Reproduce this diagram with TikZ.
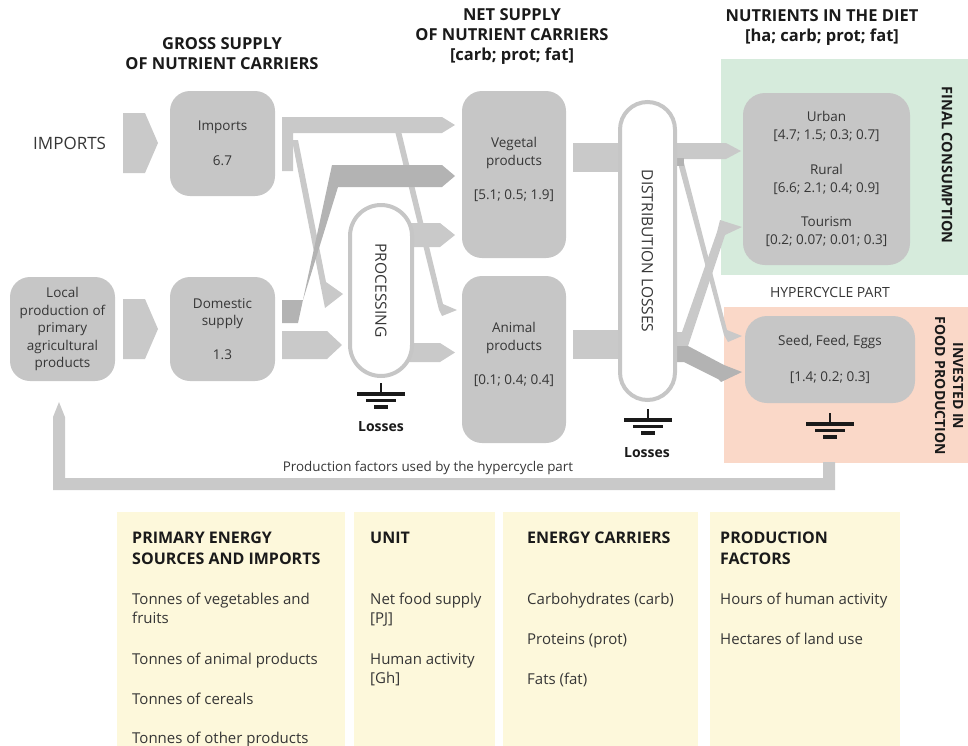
\documentclass[tikz,border=0pt]{standalone}
\usepackage{fontspec}
\setmainfont{Open Sans}
\definecolor{bandc}{HTML}{C9C9C9}
\definecolor{bandd}{HTML}{B3B3B3}
\definecolor{boxc}{HTML}{C6C6C6}
\definecolor{capc}{HTML}{C6C6C6}
\definecolor{greenbg}{HTML}{D6EBDC}
\definecolor{salmonbg}{HTML}{FAD8C8}
\definecolor{legbg}{HTML}{FDF8DB}
\definecolor{txtc}{HTML}{363636}
\definecolor{headc}{HTML}{1A1A1A}
\newcommand{\fsz}[2]{\fontsize{#1}{#2}\selectfont}
\begin{document}
\begin{tikzpicture}[x=1pt,y=-1pt,
  gbox/.style={fill=boxc, rounded corners=20pt, inner sep=0pt, text=txtc, align=center, font=\fsz{13.5}{17.5}},
  capsule/.style={draw=capc, line width=4pt, fill=white, inner sep=0pt, text=txtc, font=\fsz{15.5}{18}},
  head/.style={font=\fsz{16.5}{20}\bfseries, text=headc, align=center, inner sep=0pt},
  lbl/.style={font=\fsz{13.5}{17}, text=txtc, inner sep=0pt, align=center},
  loss/.style={font=\fsz{14}{17}\bfseries, text=headc, inner sep=0pt},
  band/.style={fill=bandc},
  bandk/.style={fill=bandd},
  legh/.style={font=\fsz{16}{20}\bfseries, text=headc, inner sep=0pt, anchor=base west},
  legt/.style={font=\fsz{15}{19}, text=txtc, inner sep=0pt, anchor=base west},
  gndsym/.pic={
    \draw[line width=2.5pt, headc] (0,0) -- (0,11);
    \draw[line width=3.5pt, headc] (-24,11) -- (24,11);
    \draw[line width=3.5pt, headc] (-15,17.5) -- (15,17.5);
    \draw[line width=3.5pt, headc] (-7,24) -- (7,24);
  }]
\path[use as bounding box] (0,0) rectangle (968,745);

% backgrounds
\fill[greenbg] (721,59) rectangle (968,275);
\fill[salmonbg] (724,307) rectangle (968,463);
\fill[legbg] (117,512) rectangle (345,750);
\fill[legbg] (354,512) rectangle (495,750);
\fill[legbg] (503,512) rectangle (698,750);
\fill[legbg] (710,512) rectangle (900,750);

% feedback line
\fill[band] (53,490) -- (53,417) -- (59,402) -- (65,417) -- (65,478) -- (823,478) -- (823,462) -- (835,462) -- (835,490) -- cycle;

% input chevrons
\fill[band] (123,113) -- (145,113) -- (158,143) -- (145,173) -- (123,173) -- cycle;
\fill[band] (123,299) -- (145,299) -- (158,329) -- (145,359) -- (123,359) -- cycle;

% imports flows
\fill[band] (282,117) -- (442,117) -- (455,125) -- (442,133) -- (293,133) -- (293,171) -- (282,171) -- cycle;
\fill[band] (292,140) -- (298,140) -- (326,282) -- (343,294) -- (325,308) -- cycle;
\fill[band] (395,131) -- (401,131) -- (443,304) -- (457,310) -- (442,316) -- (439,310) -- cycle;
% domestic flows
\fill[band] (282,331) -- (327,331) -- (342,345) -- (327,359) -- (282,359) -- cycle;
\fill[bandk] (282,300) -- (303,300) -- (338,187) -- (442,187) -- (455,176) -- (442,165) -- (332,165) -- (298,323) -- (282,323) -- cycle;
% processing outputs
\fill[band] (405,223) -- (440,223) -- (455,235) -- (440,247) -- (405,247) -- cycle;
\fill[band] (405,343) -- (440,343) -- (455,352.5) -- (440,362) -- (405,362) -- cycle;
% into distribution
\fill[band] (573,143) rectangle (625,172);
\fill[band] (573,330) rectangle (625,359);
% distribution outputs
\fill[band] (670,143) -- (726,143) -- (741,151) -- (726,159) -- (670,159) -- cycle;
\fill[band] (678,163) -- (684,163) -- (727,330) -- (742,336) -- (728,342) -- (724,335) -- cycle;
\fill[bandk] (676,158) rectangle (684,166);
\fill[band] (670,332) -- (682,332) -- (717,232) -- (720,220) -- (742,227) -- (725,235) -- (688,346) -- (670,346) -- cycle;
\fill[bandk] (670,346) -- (688,346) -- (724,365) -- (742,372) -- (721,382) -- (718,379) -- (684,362) -- (670,362) -- cycle;

% boxes
\node[gbox, minimum width=105, minimum height=105] (imp) at (222.5,143.5) {Imports\\[17pt]6.7};
\node[gbox, minimum width=105, minimum height=104] (dom) at (222.5,329) {Domestic\\supply\\[16pt]1.3};
\node[gbox, minimum width=105, minimum height=104] (loc) at (62.5,329) {Local\\production of\\primary\\agricultural\\products};
\node[gbox, minimum width=104, minimum height=167] (veg) at (514,174.5) {};
\node[lbl, font=\fsz{13.5}{17.5}] (vegt) at (514,169.5) {Vegetal\\products\\[17pt]{}[5.1; 0.5; 1.9]};
\node[gbox, minimum width=104, minimum height=167] (ani) at (514,359.5) {};
\node[lbl, font=\fsz{13.5}{17.5}] (anit) at (514,354.5) {Animal\\products\\[17pt]{}[0.1; 0.4; 0.4]};
\node[gbox, minimum width=167, minimum height=172, rounded corners=22pt, font=\fsz{13.5}{18}] (urb) at (826.5,179) {Urban\\{}[4.7; 1.5; 0.3; 0.7]\\[17pt]Rural\\{}[6.6; 2.1; 0.4; 0.9]\\[16pt]Tourism\\{}[0.2; 0.07; 0.01; 0.3]};
\node[gbox, minimum width=170, minimum height=87, rounded corners=22pt] (seed) at (830,359.5) {Seed, Feed, Eggs\\[18pt]{}[1.4; 0.2; 0.3]};

% capsules
\node[capsule, rotate=-90, minimum width=171, minimum height=62, rounded corners=31pt] (proc) at (381,290.5) {PROCESSING};
\node[capsule, rotate=-90, minimum width=298, minimum height=55, rounded corners=27.5pt] (dist) at (647.5,251) {DISTRIBUTION LOSSES};

% grounds
\pic at (381,383) {gndsym};
\pic at (648,409) {gndsym};
\pic at (830,413) {gndsym};
\node[loss] (l1) at (381,427) {Losses};
\node[loss] (l2) at (647,453) {Losses};

% headings and labels
\node[head] (h1) at (222,53.5) {GROSS SUPPLY\\OF NUTRIENT CARRIERS};
\node[head] (h2) at (512,37) {NET SUPPLY\\OF NUTRIENT CARRIERS\\{}[carb; prot; fat]};
\node[head] (h3) at (822,28) {NUTRIENTS IN THE DIET\\{}[ha; carb; prot; fat]};
\node[lbl, font=\fsz{17}{20}, anchor=west] (impl) at (33,143) {IMPORTS};
\node[lbl, font=\fsz{14}{17}] (hyp) at (830,292) {HYPERCYCLE PART};
\node[lbl, font=\fsz{13.4}{15}] (pf) at (428,468) {Production factors used by the hypercycle part};
\node[head, rotate=-90, font=\fsz{14.5}{18}\bfseries] (fc) at (947,165) {FINAL CONSUMPTION};
\node[head, rotate=-90, font=\fsz{14}{18}\bfseries] (ifp) at (949,386) {INVESTED IN\\FOOD PRODUCTION};

% legend
\node[legh] (a1) at (132,543.5) {PRIMARY ENERGY};
\node[legh] (a2) at (132,564.5) {SOURCES AND IMPORTS};
\node[legt] (a3) at (132,604) {Tonnes of vegetables and};
\node[legt] (a4) at (132,623) {fruits};
\node[legt] (a5) at (132,664) {Tonnes of animal products};
\node[legt] (a6) at (132,704) {Tonnes of cereals};
\node[legt] (a7) at (132,743) {Tonnes of other products};
\node[legh] (b1) at (370,543.5) {UNIT};
\node[legt] (b2) at (370,604) {Net food supply};
\node[legt] (b3) at (370,623) {[PJ]};
\node[legt] (b4) at (370,664) {Human activity};
\node[legt] (b5) at (370,683) {[Gh]};
\node[legh] (c1) at (527,543.5) {ENERGY CARRIERS};
\node[legt] (c2) at (527,604) {Carbohydrates (carb)};
\node[legt] (c3) at (527,644) {Proteins (prot)};
\node[legt] (c4) at (527,684) {Fats (fat)};
\node[legh] (d1) at (720,543.5) {PRODUCTION};
\node[legh] (d2) at (720,564.5) {FACTORS};
\node[legt] (d3) at (720,604) {Hours of human activity};
\node[legt] (d4) at (720,644) {Hectares of land use};
\end{tikzpicture}
\end{document}
